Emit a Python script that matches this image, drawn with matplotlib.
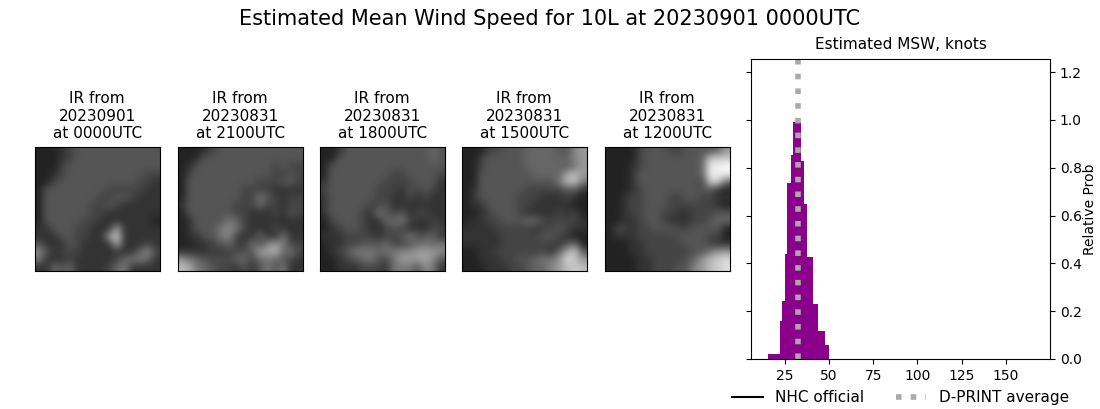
import numpy as np
import matplotlib
matplotlib.use("Agg")
import matplotlib.pyplot as plt

W, H = 1100, 409

# IR thumbnails, grey level 0-f on a coarse 16x16 grid
ir_0000 = ["2223455555555555", "2223455555555555", "2224555555555555", "2234555555555544",
           "2245555555555443", "2555555554444433", "2555555544554333", "2555555445433333",
           "2555555443333333", "2555554433333332", "3355544333933333", "3335544339c33333",
           "5333543333a33343", "8534443333333684", "7333433333467763", "3365633334673333"]
ir_2100 = ["2223455555555555", "2235555555555555", "2355555555554544", "2455555555554454",
           "2555555555444554", "2555555544443333", "2555555544754344", "3555555444644344",
           "2555555443334354", "2355557643333333", "2355578743334333", "2335578433633733",
           "2233456437489744", "3333434455a9b674", "9765454664676543", "ba76544353575733"]
ir_1800 = ["2235555555555565", "2255555555555565", "2555555555555555", "2555555554455554",
           "3555555544445553", "4555555444354543", "3555555443343433", "3555554453333333",
           "3555543754534433", "2455543366743343", "2345543345433344", "3334444344575563",
           "2334455564456767", "2345777677889998", "2234567547999a85", "2233344437775873"]
ir_1500 = ["2224455566665589", "2245555566666689", "2245555566666579", "2255555556666ab9",
           "2255555555557bb7", "2355555544444553", "2355555444333432", "2335555443333322",
           "2234555433334342", "2334455566444443", "3333444443445433", "3333344444554322",
           "3333344444443562", "2233444444436ac5", "2233344556779db9", "2223334456689bcb"]
ir_1200 = ["2222455544555569", "2222455555556ccc", "2223455555556eef", "2223555555556eee",
           "2223555555554cc6", "2223455555555532", "2234455544554433", "2234455544444432",
           "2234455443344455", "2233455433344566", "2443445554455552", "2333444445555442",
           "2223344444555433", "2223344444455799", "2222334444569bcd", "2222334445589bcd"]
ir_grids = [ir_0000, ir_2100, ir_1800, ir_1500, ir_1200]
ir_titles = ["IR from\n20230901\nat 0000UTC", "IR from\n20230831\nat 2100UTC", "IR from\n20230831\nat 1800UTC",
             "IR from\n20230831\nat 1500UTC", "IR from\n20230831\nat 1200UTC"]
ir_left = [35, 178, 320, 462, 605]

# histogram
bin_edges = [15.6, 22.4, 23.5, 25.2, 26.3, 28.6, 29.7, 34.2, 35.9, 37.6, 41.0, 43.8, 47.8, 50.0]
probs = [0.022, 0.16, 0.243, 0.439, 0.738, 0.854, 0.993, 0.83, 0.647, 0.426, 0.23, 0.118, 0.06]
dprint_avg = 32.4


def px_axes(fig, left, top, width, height):
    return fig.add_axes([left / W, 1 - (top + height) / H, width / W, height / H])


fig = plt.figure(figsize=(W / 100, H / 100), dpi=100)
fig.suptitle("Estimated Mean Wind Speed for 10L at 20230901 0000UTC", fontsize=15, x=0.5, y=0.977)

for grid, title, left in zip(ir_grids, ir_titles, ir_left):
    ax = px_axes(fig, left, 147, 124.6, 124)
    img = np.array([[int(c, 16) for c in row] for row in grid])
    ax.imshow(img, cmap="gray", vmin=0, vmax=15, interpolation="bicubic", aspect="auto")
    ax.set_xticks([])
    ax.set_yticks([])
    ax.set_title(title, fontsize=11, pad=6.5)

ax = px_axes(fig, 751, 59, 299, 300)
ax.bar(bin_edges[:-1], probs, width=np.diff(bin_edges), align="edge", color="darkmagenta")
ax.plot([], [], color="black", linewidth=1.5, label="NHC official")
ax.axvline(dprint_avg, color="darkgray", linewidth=4, linestyle=":", label="D-PRINT average")
ax.set_xlim(5.8, 175)
ax.set_ylim(0, 1.2545)
ax.set_xticks([25, 50, 75, 100, 125, 150])
ax.set_yticks([0, 0.2, 0.4, 0.6, 0.8, 1.0, 1.2])
ax.tick_params(axis="y", left=True, right=True, labelleft=False, labelright=True)
ax.yaxis.set_label_position("right")
ax.set_ylabel("Relative Prob", labelpad=1)
ax.set_title("Estimated MSW, knots", fontsize=11, pad=7)
ax.legend(ncol=2, frameon=False, fontsize=11, loc="lower center",
          bbox_to_anchor=(0.5, -0.2), columnspacing=2.08)

fig.savefig("out.png", dpi=100)
